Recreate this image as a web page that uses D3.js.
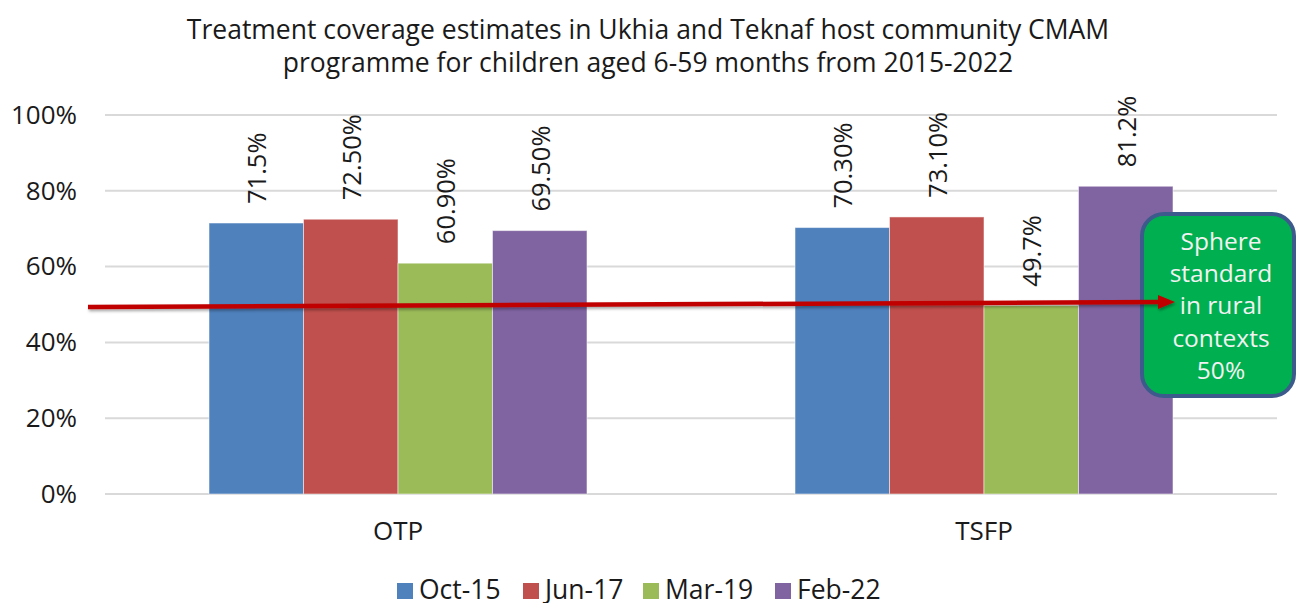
<!DOCTYPE html>
<html>
<head>
<meta charset="utf-8">
<script src="https://cdn.jsdelivr.net/npm/d3@7"></script>
<style>
  body { margin: 0; background: #fff; }
  svg { font-family: "Open Sans", "Noto Sans", sans-serif; }
</style>
</head>
<body>
<svg id="chart" width="1297" height="603"></svg>
<script>
const categories = ["OTP", "TSFP"];
const seriesNames = ["Oct-15", "Jun-17", "Mar-19", "Feb-22"];
const seriesColors = ["#4f81bd", "#c0504d", "#9bbb59", "#8064a2"];
const otpValues = [71.5, 72.5, 60.9, 69.5];
const tsfpValues = [70.3, 73.1, 49.7, 81.2];
const otpLabels = ["71.5%", "72.50%", "60.90%", "69.50%"];
const tsfpLabels = ["70.30%", "73.10%", "49.7%", "81.2%"];
const yTicks = [0, 20, 40, 60, 80, 100];
const titleLines = [
  "Treatment coverage estimates in Ukhia and Teknaf host community CMAM",
  "programme for children aged 6-59 months from 2015-2022"
];
const calloutLines = ["Sphere", "standard", "in rural", "contexts", "50%"];
const sphereStandard = 50;

const rows = categories.map((c, i) => ({
  category: c,
  values: (i === 0 ? otpValues : tsfpValues).map((v, j) => ({
    series: seriesNames[j],
    value: v,
    label: (i === 0 ? otpLabels : tsfpLabels)[j]
  }))
}));

const svg = d3.select("#chart");
const margin = { top: 115, right: 20, bottom: 109, left: 105 };
const width = 1297 - margin.left - margin.right;
const height = 603 - margin.top - margin.bottom;

const x0 = d3.scaleBand()
  .domain(categories)
  .range([0, width])
  .paddingInner(0.355)
  .paddingOuter(0.1775);
const x1 = d3.scaleBand()
  .domain(seriesNames)
  .range([0, x0.bandwidth()]);
const color = d3.scaleOrdinal().domain(seriesNames).range(seriesColors);
const y = d3.scaleLinear().domain([0, 100]).range([height, 0]);

// Title
svg.append("g")
  .attr("fill", "#1a1a1a")
  .attr("font-size", 26.5)
  .attr("text-anchor", "middle")
  .selectAll("text")
  .data(titleLines)
  .join("text")
    .attr("x", 648)
    .attr("y", (d, i) => 39 + i * 33)
    .text(d => d);

const g = svg.append("g")
  .attr("transform", `translate(${margin.left},${margin.top})`);

// Gridlines
g.append("g")
  .selectAll("line")
  .data(yTicks)
  .join("line")
    .attr("x1", 0)
    .attr("x2", width)
    .attr("y1", d => y(d))
    .attr("y2", d => y(d))
    .attr("stroke", "#d9d9d9")
    .attr("stroke-width", 2);

// Y axis labels
const yAxis = g.append("g")
  .call(d3.axisLeft(y).tickValues(yTicks).tickFormat(d => d + "%").tickSize(0).tickPadding(28));
yAxis.select(".domain").remove();
yAxis.selectAll("text")
  .attr("font-size", 26)
  .attr("fill", "#1a1a1a")
  .attr("font-family", "'Open Sans', sans-serif");

// Bars
const groups = g.append("g")
  .selectAll("g")
  .data(rows)
  .join("g")
    .attr("transform", d => `translate(${x0(d.category)},0)`);

groups.selectAll("rect")
  .data(d => d.values)
  .join("rect")
    .attr("x", d => x1(d.series))
    .attr("y", d => y(d.value))
    .attr("width", x1.bandwidth())
    .attr("height", d => height - y(d.value))
    .attr("fill", d => color(d.series))
    .attr("stroke", "#ffffff")
    .attr("stroke-opacity", 0.5)
    .attr("stroke-width", 1);

groups.selectAll("text")
  .data(d => d.values)
  .join("text")
    .attr("transform", d => `translate(${x1(d.series) + x1.bandwidth() / 2 + 10},${y(d.value) - 19}) rotate(-90)`)
    .attr("font-size", 25.5)
    .attr("fill", "#1a1a1a")
    .text(d => d.label);

// Category labels
const xAxis = g.append("g")
  .attr("transform", `translate(0,${height})`)
  .call(d3.axisBottom(x0).tickSize(0).tickPadding(28));
xAxis.select(".domain").remove();
xAxis.selectAll("text")
  .attr("font-size", 26)
  .attr("fill", "#1a1a1a")
  .attr("font-family", "'Open Sans', sans-serif");

// Callout box
const callout = svg.append("g");
callout.append("rect")
  .attr("x", 1142)
  .attr("y", 214)
  .attr("width", 152)
  .attr("height", 182)
  .attr("rx", 22)
  .attr("fill", "#00b050")
  .attr("stroke", "#3c5a8c")
  .attr("stroke-width", 4);
callout.append("g")
  .attr("fill", "#f2f2f2")
  .attr("font-size", 24.5)
  .attr("text-anchor", "middle")
  .selectAll("text")
  .data(calloutLines)
  .join("text")
    .attr("x", 1221)
    .attr("y", (d, i) => 250 + i * 32.2)
    .text(d => d);

// Sphere standard arrow (drawn over the callout)
const shadow = svg.append("defs").append("filter")
  .attr("id", "shadow")
  .attr("filterUnits", "userSpaceOnUse")
  .attr("x", -150).attr("y", 100)
  .attr("width", 1400).attr("height", 200);
shadow.append("feDropShadow")
  .attr("dx", 1).attr("dy", 2)
  .attr("stdDeviation", 1.5)
  .attr("flood-color", "#000")
  .attr("flood-opacity", 0.35);

const ax1 = -17, ay1 = y(sphereStandard) + 2.5;
const ax2 = 1070, ay2 = y(sphereStandard) - 2.5;
const ang = Math.atan2(ay2 - ay1, ax2 - ax1);
const headLen = 17, headHalf = 7;
const bx = ax2 - headLen * Math.cos(ang), by = ay2 - headLen * Math.sin(ang);
const arrow = svg.append("g")
  .attr("transform", `translate(${margin.left},${margin.top})`)
  .append("g")
    .attr("filter", "url(#shadow)");
arrow.append("line")
  .attr("x1", ax1)
  .attr("y1", ay1)
  .attr("x2", bx + 2)
  .attr("y2", by)
  .attr("stroke", "#c00000")
  .attr("stroke-width", 4.5);
arrow.append("path")
  .attr("d", `M${ax2},${ay2} L${bx - headHalf * Math.sin(ang)},${by + headHalf * Math.cos(ang)} L${bx + headHalf * Math.sin(ang)},${by - headHalf * Math.cos(ang)} Z`)
  .attr("fill", "#c00000");

// Legend
const legendX = [397, 523, 643, 775];
const legend = svg.append("g")
  .selectAll("g")
  .data(seriesNames)
  .join("g")
    .attr("transform", (d, i) => `translate(${legendX[i]},583)`);
legend.append("rect")
  .attr("width", 16)
  .attr("height", 16)
  .attr("fill", d => color(d));
legend.append("text")
  .attr("x", 22)
  .attr("y", 16)
  .attr("font-size", 26.5)
  .attr("fill", "#1a1a1a")
  .text(d => d);
</script>
</body>
</html>
